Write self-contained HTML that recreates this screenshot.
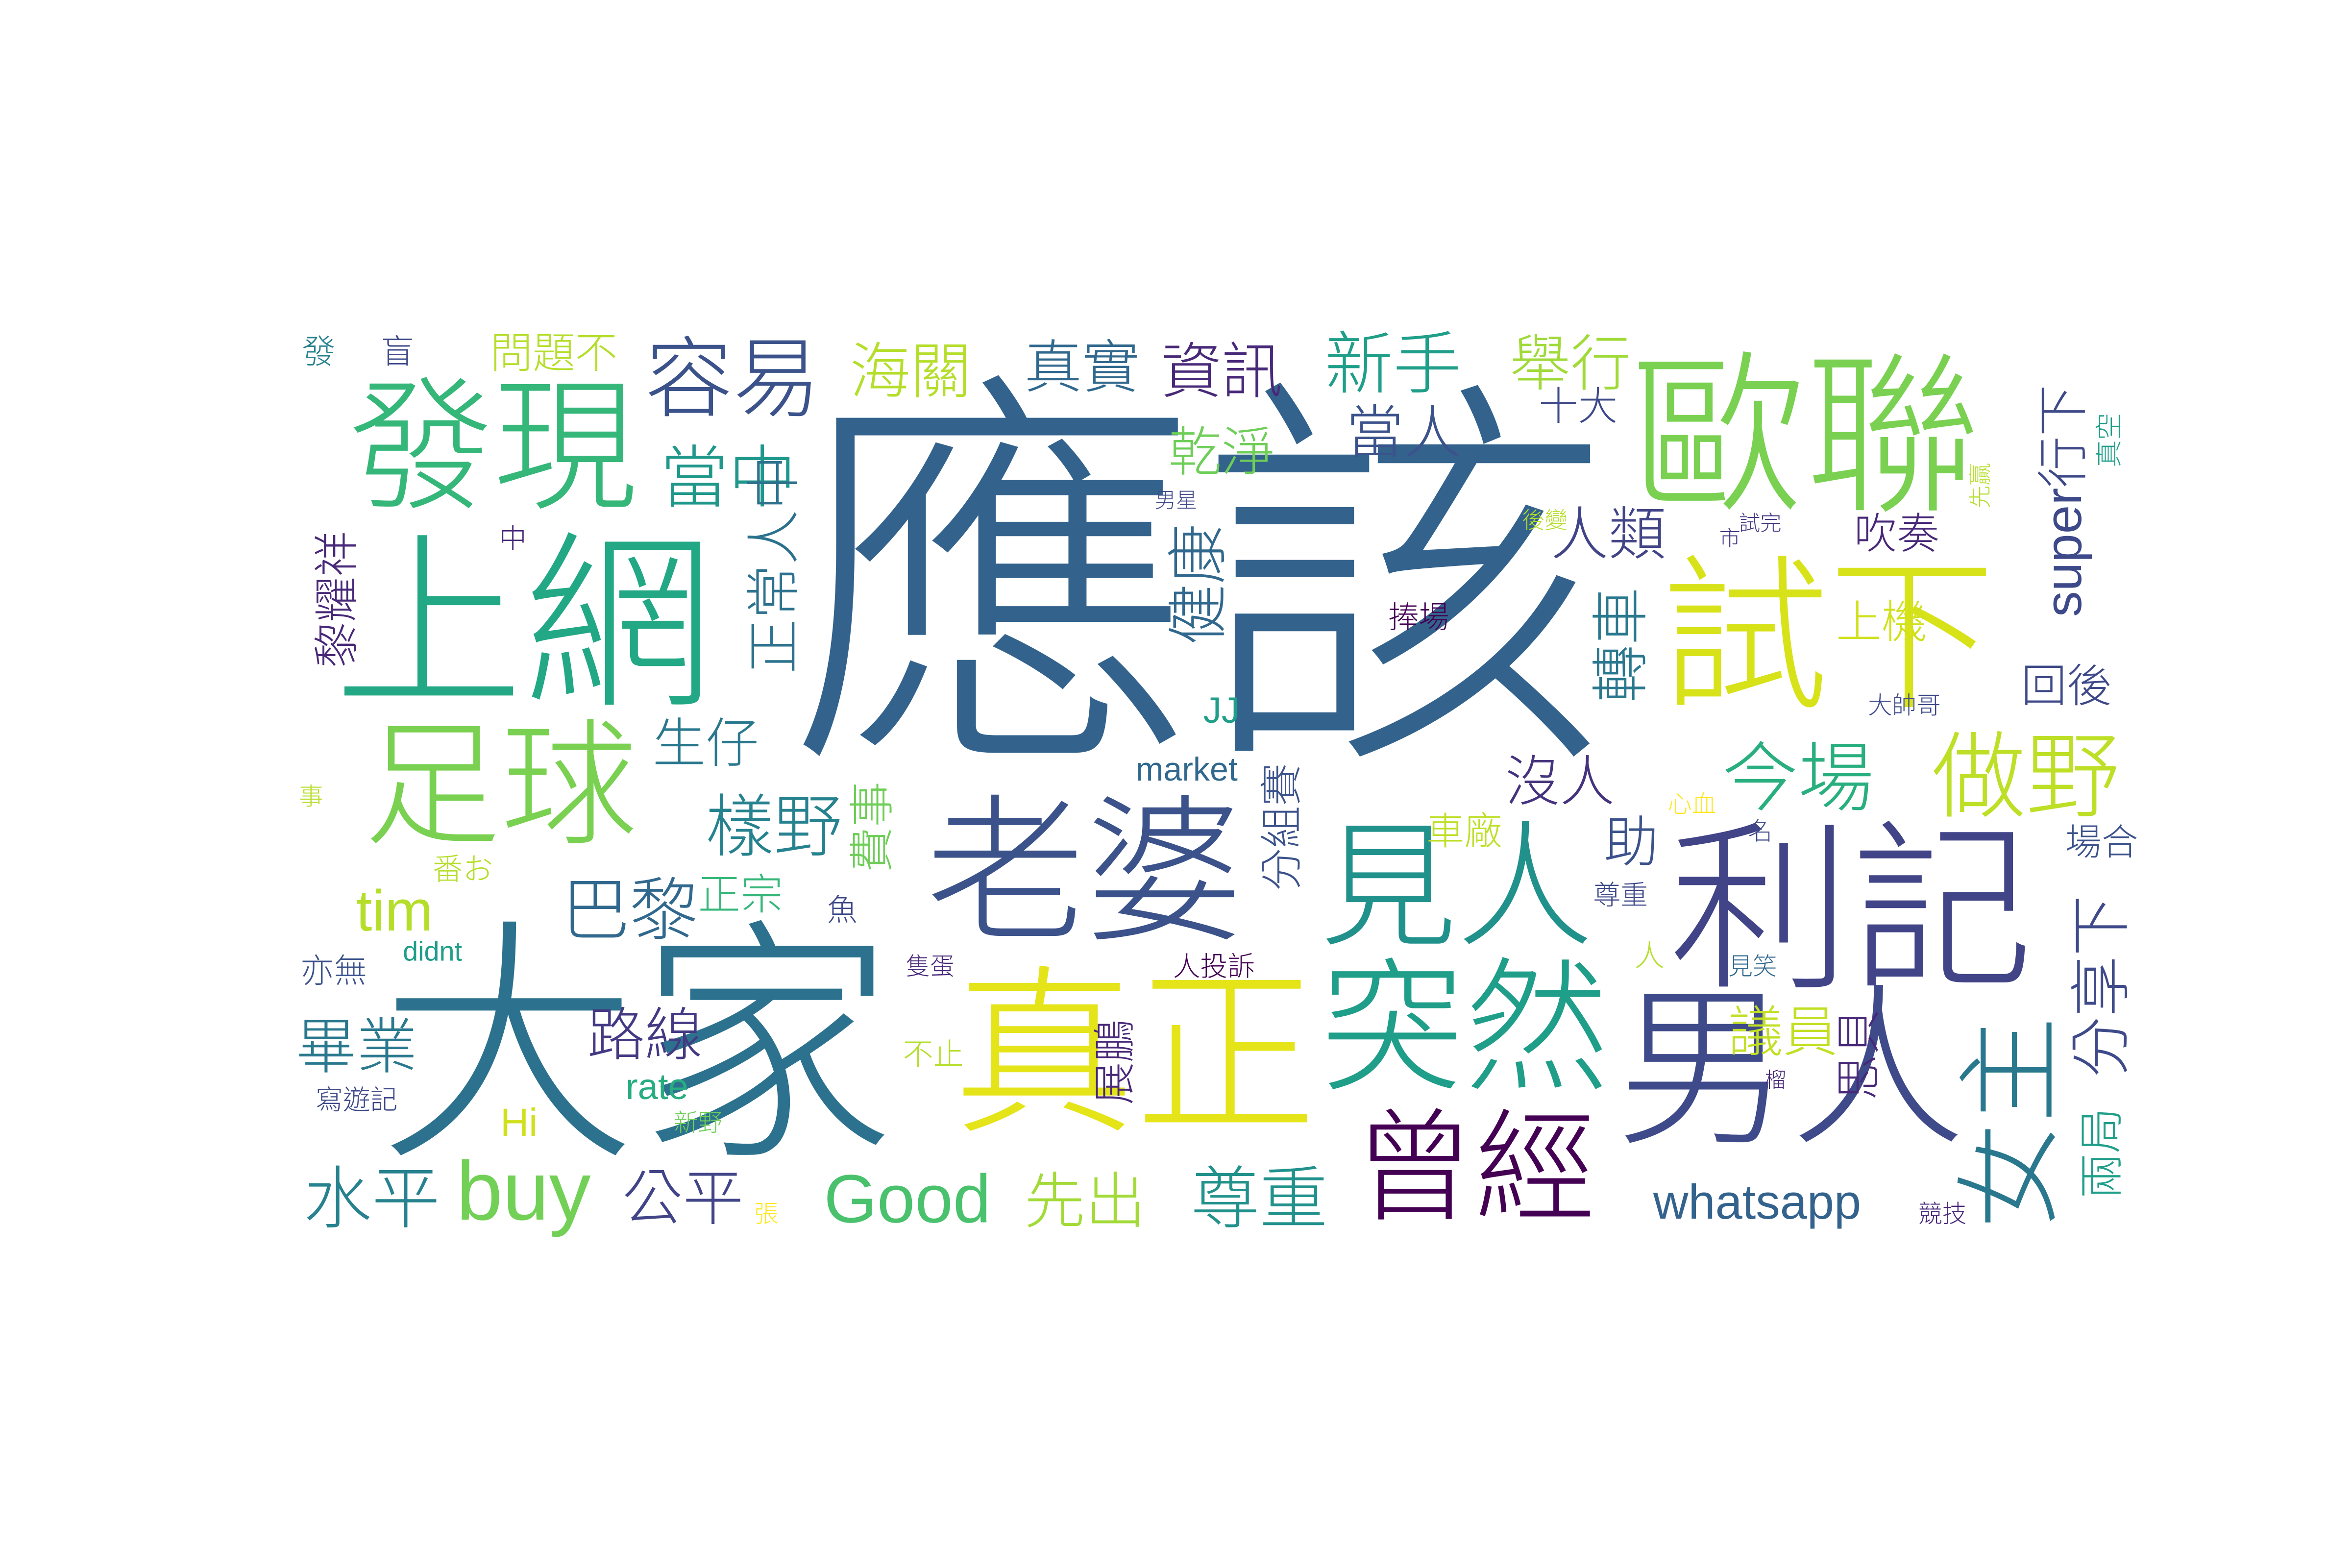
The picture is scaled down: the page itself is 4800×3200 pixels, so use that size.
<!DOCTYPE html>
<html><head><meta charset="utf-8">
<style>
html,body{margin:0;padding:0;background:#fff;}
svg{display:block;}
text{font-family:"Liberation Sans","Noto Sans CJK TC",sans-serif;font-weight:300;text-anchor:middle;dominant-baseline:central;}
</style></head>
<body>
<svg width="4800" height="3200" viewBox="0 0 1550 1033.3" xmlns="http://www.w3.org/2000/svg">
<rect width="1550" height="1033.3" fill="#fff"/>
<g id="words"></g>
</svg>
<script>
const words = ["應該","大家","真正","老婆","利記","男人","見人","突然","曾經","歐聯","試下","做野","今場","女主","發現","上網","足球","容易","當中","正常人中","生仔","樣野","巴黎","tim","畢業","路線","rate","Hi","水平","buy","公平","Good","先出","尊重","whatsapp","兩局","分享下","場合","回後","super行下","真空","先贏","試完","市","後變","男星","真實","資訊","新手","舉行","當人","十大","乾淨","海關","問題不","發","盲","人類","吹奏","上機","轉車","健康","捧場","大帥哥","沒人","助","尊重","人","見笑","議員","思貝","榴","競技","心血","名","車廠","分組賽","market","JJ","人投訴","展鵬","不止","新野","張","寫遊記","亦無","didnt","番お","事","黎耀祥","中","費事","正宗","魚","隻蛋"];
const spec = [
[790,385,270,"#33638d",0],[420,690,170,"#2c728e",0],[748,695,120,"#e5e419",0],[715,575,105,"#3b528b",0],
[1220,600,120,"#414487",0],[1180,705,115,"#3e4a89",0],[960,585,90,"#21918c",0],[965,678,95,"#1f9e89",0],
[972,770,80,"#440154",0],[1190,288,115,"#7ad151",0],[1205,420,110,"#d8e219",0],[1335,512,62,"#bddf26",0],
[1185,513,50,"#29af7f",0],[1325,740,70,"#2a788e",1],[325,295,95,"#35b779",0],[345,412,125,"#22a884",0],
[330,518,90,"#7ad151",0],[483,250,58,"#3b528b",0],[480,315,45,"#1f988b",0],[510,372,36,"#2c728e",1],
[465,490,35,"#2a788e",0],[510,545,45,"#26828e",0],[415,600,45,"#31688e",0],[260,600,38,"#b5de2b",0],
[235,690,40,"#2a788e",0],[425,682,38,"#443983",0],[433,716,24,"#27ad81",0],[342,740,26,"#d0e11c",0],
[245,790,45,"#26828e",0],[345,785,55,"#73d056",0],[450,790,40,"#414487",0],[598,790,45,"#4ac16d",0],
[715,792,40,"#a2da37",0],[830,790,45,"#21918c",0],[1158,792,32,"#33638d",0],[1385,760,30,"#1f9e89",1],
[1385,650,40,"#3e4a89",1],[1385,555,24,"#3b528b",0],[1362,452,30,"#3e4989",0],[1360,330,34,"#3e4989",1],
[1390,290,18,"#1f9e89",1],[1305,320,15,"#b5de2b",1],[1160,345,14,"#443983",0],[1140,355,14,"#443983",0],
[1018,343,15,"#b5de2b",0],[775,330,14,"#3e4989",0],[713,242,38,"#31688e",0],[805,245,40,"#482878",0],
[918,240,45,"#1f9e89",0],[1035,240,40,"#a0da39",0],[925,285,38,"#3b528b",0],[1040,268,26,"#3e4989",0],
[805,298,35,"#6ece58",0],[600,245,40,"#b5de2b",0],[365,233,28,"#b5de2b",0],[210,232,22,"#26828e",0],
[262,232,22,"#3e4989",0],[1060,352,38,"#414487",0],[1250,352,28,"#482878",0],[1240,410,30,"#d0e11c",0],
[1068,425,38,"#2a788e",1],[790,385,40,"#31688e",1],[935,407,20,"#440154",0],[1255,465,16,"#3e4989",0],
[1028,515,36,"#46337e",0],[1075,555,36,"#3b528b",0],[1068,590,18,"#3e4989",0],[1087,630,20,"#b5de2b",0],
[1155,637,16,"#31688e",0],[1175,680,36,"#c2df23",0],[1225,695,30,"#482878",1],[1170,712,14,"#482878",0],
[1280,800,16,"#482878",0],[1115,530,16,"#fde725",0],[1160,548,16,"#3e4989",0],[965,548,25,"#bddf26",0],
[845,545,28,"#3b528b",1],[782,507,22,"#31688e",0],[805,468,24,"#1f9e89",0],[800,637,18,"#440154",0],
[735,700,28,"#482878",1],[615,695,20,"#b5de2b",0],[460,740,16,"#6ece58",0],[505,800,16,"#fde725",0],
[235,725,18,"#3e4989",0],[220,640,22,"#3b528b",0],[285,627,18,"#1f9e89",0],[305,573,20,"#b5de2b",0],
[205,525,16,"#b5de2b",0],[222,395,30,"#482878",1],[338,355,18,"#482878",0],[575,545,30,"#6ece58",1],
[488,590,28,"#35b779",0],[555,600,20,"#3e4989",0],[613,637,16,"#482878",0]
];
const g = document.getElementById('words');
const NS = "http://www.w3.org/2000/svg";
words.forEach((w,i)=>{
  const s = spec[i];
  const t = document.createElementNS(NS,'text');
  t.setAttribute('x',s[0]); t.setAttribute('y',s[1]);
  t.setAttribute('font-size',s[2]); t.setAttribute('fill',s[3]);
  if(s[4]) t.setAttribute('transform','rotate(-90 '+s[0]+' '+s[1]+')');
  
  
  t.textContent = w;
  g.appendChild(t);
});
</script>
</body></html>
